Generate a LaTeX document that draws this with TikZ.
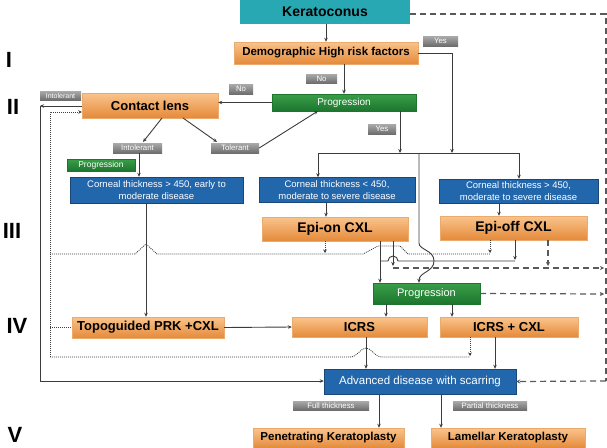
\documentclass[tikz,border=0pt]{standalone}
\usepackage{fontspec}
\setmainfont{Liberation Sans}
\usetikzlibrary{arrows.meta,positioning}

\definecolor{tealk}{RGB}{40,168,178}
\definecolor{orangetop}{RGB}{250,196,140}
\definecolor{orangebot}{RGB}{228,138,58}
\definecolor{orangeline}{RGB}{235,170,110}
\definecolor{greentop}{RGB}{58,158,72}
\definecolor{greenbot}{RGB}{28,118,46}
\definecolor{bluebox}{RGB}{34,102,172}
\definecolor{graytop}{RGB}{170,170,170}
\definecolor{graybot}{RGB}{110,110,110}
\definecolor{linecol}{RGB}{60,60,60}

\tikzset{
  box/.style={inner sep=0pt, align=center, anchor=center},
  keratobox/.style={box, fill=tealk, font=\fontsize{14}{16}\selectfont\bfseries},
  orangebox/.style={box, draw=orangeline, top color=orangetop, bottom color=orangebot,
    font=\fontsize{13}{15}\selectfont\bfseries},
  greenbox/.style={box, draw=greenbot, top color=greentop, bottom color=greenbot,
    text=white, font=\fontsize{10}{12}\selectfont},
  bluebox/.style={box, draw=bluebox!70!black, fill=bluebox, text=white,
    font=\fontsize{9.5}{11.5}\selectfont},
  tag/.style={box, top color=graytop, bottom color=graybot, text=white,
    font=\fontsize{7.8}{8}\selectfont},
  level/.style={font=\fontsize{22}{22}\selectfont\bfseries},
  line/.style={draw=linecol, line width=0.9pt},
  arr/.style={line, -{Stealth[length=4pt,width=3.5pt]}},
  dashline/.style={draw=linecol!85, line width=1.2pt, dash pattern=on 6pt off 4pt},
  dasharr/.style={dashline, -{Stealth[length=4pt,width=4pt]}},
  dotline/.style={draw=linecol, line width=0.8pt, dash pattern=on 1pt off 1pt},
  dotarr/.style={dotline, -{Stealth[length=3.5pt,width=3.5pt]}},
}

\begin{document}
\begin{tikzpicture}[x=1pt,y=-1pt]
\useasboundingbox (0,0) rectangle (607,447);

% levels
\node[level] (lvI) at (9,60) {I};
\node[level] (lvII) at (13,107) {II};
\node[level] (lvIII) at (12,231) {III};
\node[level] (lvIV) at (17,326) {IV};
\node[level] (lvV) at (15,435) {V};

% boxes
\node[keratobox, minimum width=170pt, minimum height=24pt] (kerato) at (325,12) {Keratoconus};
\node[orangebox, minimum width=184pt, minimum height=22pt, font=\fontsize{11.5}{13}\selectfont\bfseries] (demo) at (326,53) {Demographic High risk factors};
\node[greenbox, minimum width=144pt, minimum height=17pt] (prog1) at (344,102.5) {Progression};
\node[orangebox, minimum width=136pt, minimum height=25pt] (contact) at (150,105.5) {Contact lens};
\node[bluebox, minimum width=173pt, minimum height=26pt] (cornA) at (156.5,190) {Corneal thickness > 450, early to\\moderate disease};
\node[bluebox, minimum width=156pt, minimum height=25pt] (cornB) at (337,190) {Corneal thickness < 450,\\moderate to severe disease};
\node[bluebox, minimum width=159pt, minimum height=24pt] (cornC) at (518.5,191) {Corneal thickness > 450,\\moderate to severe disease};
\node[orangebox, minimum width=146pt, minimum height=24pt, font=\fontsize{14}{16}\selectfont\bfseries] (epion) at (335,229) {Epi-on CXL};
\node[orangebox, minimum width=147pt, minimum height=24pt, font=\fontsize{14}{16}\selectfont\bfseries] (epioff) at (513.5,228) {Epi-off CXL};
\node[greenbox, minimum width=107pt, minimum height=21pt, font=\fontsize{11}{13}\selectfont] (prog2) at (426.5,293.5) {Progression};
\node[orangebox, minimum width=152pt, minimum height=21pt] (topo) at (148,327.5) {Topoguided PRK +CXL};
\node[orangebox, minimum width=135pt, minimum height=20pt] (icrs) at (359.5,327) {ICRS};
\node[orangebox, minimum width=138pt, minimum height=20pt] (icrscxl) at (509,327) {ICRS + CXL};
\node[bluebox, minimum width=192pt, minimum height=25pt, font=\fontsize{11.5}{13}\selectfont] (adv) at (420,381.5) {Advanced disease with scarring};
\node[orangebox, minimum width=151pt, minimum height=20pt, font=\fontsize{11.5}{13}\selectfont\bfseries] (pk) at (328.5,438) {Penetrating Keratoplasty};
\node[orangebox, minimum width=154pt, minimum height=20pt, font=\fontsize{11.5}{13}\selectfont\bfseries] (lk) at (508,438) {Lamellar Keratoplasty};

% tags
\node[tag, minimum width=35pt, minimum height=10pt] (yesA) at (440.5,41) {Yes};
\node[tag, minimum width=31pt, minimum height=9pt] (noA) at (321.5,78.5) {No};
\node[tag, minimum width=24pt, minimum height=10pt] (noB) at (241,89) {No};
\node[tag, minimum width=28pt, minimum height=10pt] (yesB) at (382,129) {Yes};
\node[tag, minimum width=41pt, minimum height=9pt, font=\fontsize{7}{8}\selectfont] (intolA) at (60.5,95.5) {Intolerant};
\node[tag, minimum width=49pt, minimum height=10pt] (intolB) at (137.5,148) {Intolerant};
\node[tag, minimum width=48pt, minimum height=10pt] (tolerant) at (235,148) {Tolerant};
\node[greenbox, minimum width=68pt, minimum height=12pt, font=\fontsize{8.5}{9}\selectfont] (progtag) at (101,165) {Progression};
\node[tag, minimum width=76pt, minimum height=9pt] (fullth) at (331,405.5) {Full thickness};
\node[tag, minimum width=74pt, minimum height=9pt] (partth) at (490,405.5) {Partial thickness};

% junction points
\coordinate (splitL) at (318,153);
\coordinate (splitR) at (519,153);
\coordinate (yesdrop) at (452,153);
\coordinate (progdrop) at (400,153);
\coordinate (middrop) at (419,153);
\coordinate (leftcorner) at (40,106);
\coordinate (dashR) at (606,14);

% top part
\draw[arr] (kerato.south -| demo.north) -- (demo.north);
\draw[arr] (prog1.north |- demo.south) -- (prog1.north);
\draw[arr] (demo.east) -| (yesdrop);
\draw[arr] (prog1.west) -- (prog1.west -| contact.east);
\draw[arr] (progdrop |- prog1.south) -- (progdrop);
\draw[line] (splitL) -- (splitR);
\draw[arr] (splitL) -- (splitL |- cornB.north);
\draw[arr] (splitR) -- (splitR |- cornC.north);
\draw[arr] (middrop) -- (419,243) .. controls (419,250) and (434,250) .. (434,261)
  .. controls (434,272) and (419,272) .. (middrop |- prog2.north);

% contact lens branch
\draw[arr] (162,118) -- (143,142);
\draw[arr] (183,118) -- (217,142);
\draw[arr] (tolerant.east) -- (318,111);
\draw[arr] (139,0 |- intolB.south) -- (139,0 |- cornA.north);
\draw[arr] (146,0 |- cornA.south) -- (146,0 |- topo.north);
\draw[arr] (contact.west |- leftcorner) -- (leftcorner);
\draw[arr] (leftcorner) -- (40,381) -- (40,381 -| adv.west);

% CXL
\draw[arr] (326,0 |- cornB.south) -- (326,0 |- epion.north);
\draw[arr] (499,0 |- cornC.south) -- (499,0 |- epioff.north);
\draw[arr] (380,0 |- epion.south) -- (380,0 |- prog2.north);
\draw[arr] (393,0 |- epion.south) -- (393,266);
\draw[arr] (515,0 |- epioff.south) -- (515,260);
\draw[line] (515,261) -- (398,261) arc[start angle=0, end angle=180, radius=5pt] -- (380,261);

% dashed paths
\draw[dashline] (kerato.east |- dashR) -- (dashR) -- (606,381);
\draw[dasharr] (606,381) -- (adv.east);
\draw[dasharr] (393,268) -- (604,268);
\draw[dasharr] (548,0 |- epioff.south) -- (548,266);
\draw[dasharr] (prog2.east) -- (604,294);

% dotted paths
\draw[dotarr] (50,357) -- (50,112) -- (50,112 -| contact.west);
\draw[dotline] (50,254) -- (135,254) -- (146,244) -- (157,254) -- (363,254) -- (378,246)
  -- (400,246) -- (408,254) -- (490,254);
\draw[dotline] (50,357) -- (350,357) .. controls (358,357) and (360,348) .. (366,348)
  .. controls (372,348) and (374,357) .. (382,357) -- (470,357);
\draw[dotline] (50,327.5) -- (topo.west);
\draw[dotarr] (325,0 |- epion.south) -- (325,253);
\draw[dotarr] (490,0 |- epioff.south) -- (490,253);
\draw[dotarr] (470,0 |- icrscxl.south) -- (470,356);

% lower part
\draw[arr] (topo.east) -- (icrs.west);
\draw[arr] (386,0 |- prog2.south) -- (386,0 |- icrs.north);
\draw[arr] (452,0 |- prog2.south) -- (452,0 |- icrscxl.north);
\draw[arr] (366,0 |- icrs.south) -- (366,0 |- adv.north);
\draw[arr] (495,0 |- icrscxl.south) -- (495,0 |- adv.north);
\draw[arr] (379,0 |- adv.south) -- (379,0 |- pk.north);
\draw[arr] (441,0 |- adv.south) -- (441,0 |- lk.north);
\end{tikzpicture}
\end{document}
